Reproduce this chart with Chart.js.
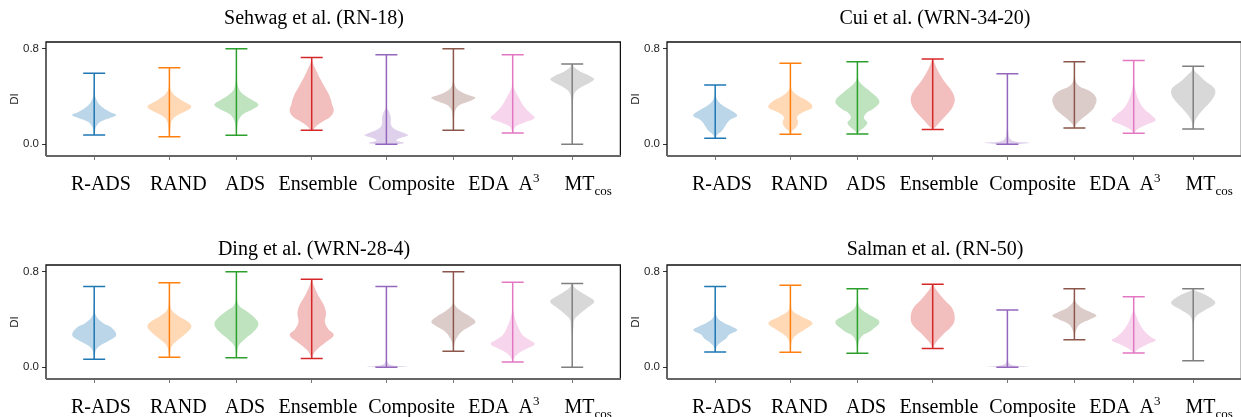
<!DOCTYPE html>
<html lang="en">
<head>
  <meta charset="UTF-8" />
  <title>DI per method</title>
  <script src="https://cdn.jsdelivr.net/npm/chart.js"></script>
  <style>
    html, body { margin: 0; padding: 0; background: #fff; overflow: hidden; }
    body { width: 1241px; height: 417px; position: relative; }
    .panel { position: absolute; width: 621px; height: 210px; }
  </style>
</head>
<body>
  <div class="panel" style="left:0;top:0"><canvas id="c0"></canvas></div>
  <div class="panel" style="left:621px;top:0"><canvas id="c1"></canvas></div>
  <div class="panel" style="left:0;top:223px"><canvas id="c2"></canvas></div>
  <div class="panel" style="left:621px;top:223px"><canvas id="c3"></canvas></div>

  <script>
    // methods, ^ = superscript, _ = subscript
    var categories = ['R-ADS', 'RAND', 'ADS', 'Ensemble', 'Composite', 'EDA', 'A^3', 'MT_cos'];
    var colors = ['#1f77b4', '#ff7f0e', '#2ca02c', '#d62728', '#9467bd', '#8c564b', '#e377c2', '#7f7f7f'];
    var yTicks = [0.0, 0.8];
    var titles = ['Sehwag et al. (RN-18)', 'Cui et al. (WRN-34-20)', 'Ding et al. (WRN-28-4)', 'Salman et al. (RN-50)'];

    // violin outlines: [DI value, relative half width], from max down to min
    var sehwag = [
      [[0.594, 0], [0.45, 0.02], [0.38, 0.08], [0.32, 0.3], [0.27, 0.72], [0.245, 1], [0.22, 0.72], [0.19, 0.3], [0.15, 0.1], [0.12, 0.05], [0.077, 0.02]],
      [[0.641, 0], [0.50, 0.02], [0.44, 0.1], [0.38, 0.45], [0.34, 0.82], [0.314, 1], [0.28, 0.78], [0.24, 0.35], [0.2, 0.12], [0.15, 0.06], [0.063, 0.02]],
      [[0.80, 0], [0.6, 0.02], [0.48, 0.08], [0.42, 0.3], [0.37, 0.72], [0.33, 1], [0.29, 0.72], [0.25, 0.3], [0.2, 0.1], [0.15, 0.04], [0.074, 0.02]],
      [[0.727, 0], [0.68, 0.05], [0.62, 0.2], [0.55, 0.38], [0.47, 0.62], [0.40, 0.82], [0.33, 0.93], [0.28, 1], [0.23, 0.85], [0.19, 0.5], [0.15, 0.2], [0.116, 0.05]],
      [[0.75, 0], [0.40, 0.01], [0.30, 0.03], [0.27, 0.12], [0.22, 0.2], [0.17, 0.2], [0.13, 0.35], [0.09, 0.85], [0.075, 1], [0.05, 0.6], [0.03, 0.45], [0.01, 0.8], [0.0, 0.5]],
      [[0.80, 0], [0.6, 0.02], [0.5, 0.05], [0.45, 0.25], [0.41, 0.72], [0.39, 1], [0.36, 0.72], [0.33, 0.3], [0.29, 0.1], [0.24, 0.04], [0.116, 0.01]],
      [[0.75, 0], [0.5, 0.02], [0.46, 0.08], [0.40, 0.25], [0.32, 0.5], [0.26, 0.8], [0.22, 1], [0.18, 0.5], [0.15, 0.15], [0.12, 0.05], [0.093, 0.02]],
      [[0.671, 0], [0.64, 0.12], [0.60, 0.45], [0.57, 0.82], [0.545, 1], [0.51, 0.75], [0.47, 0.35], [0.43, 0.12], [0.38, 0.05], [0.30, 0.02], [0.10, 0.01], [0.0, 0]]
    ];
    var cui = [
      [[0.496, 0], [0.42, 0.02], [0.37, 0.1], [0.33, 0.3], [0.29, 0.65], [0.24, 1], [0.20, 0.65], [0.15, 0.45], [0.11, 0.3], [0.08, 0.1], [0.049, 0.02]],
      [[0.677, 0], [0.5, 0.02], [0.45, 0.08], [0.40, 0.4], [0.36, 0.8], [0.31, 1], [0.27, 0.6], [0.23, 0.3], [0.18, 0.35], [0.14, 0.25], [0.11, 0.08], [0.083, 0.02]],
      [[0.691, 0], [0.55, 0.03], [0.50, 0.2], [0.44, 0.6], [0.36, 1], [0.30, 0.75], [0.26, 0.4], [0.22, 0.3], [0.18, 0.45], [0.14, 0.3], [0.11, 0.1], [0.085, 0.02]],
      [[0.713, 0], [0.68, 0.08], [0.61, 0.25], [0.52, 0.55], [0.45, 0.85], [0.38, 1], [0.31, 0.9], [0.24, 0.6], [0.18, 0.3], [0.135, 0.08], [0.122, 0.02]],
      [[0.59, 0], [0.2, 0.01], [0.1, 0.04], [0.05, 0.1], [0.025, 0.3], [0.012, 1], [0.0, 0.5]],
      [[0.691, 0], [0.55, 0.03], [0.49, 0.2], [0.44, 0.75], [0.38, 1], [0.31, 0.9], [0.27, 0.72], [0.23, 0.45], [0.19, 0.2], [0.16, 0.06], [0.136, 0.02]],
      [[0.70, 0], [0.55, 0.01], [0.47, 0.06], [0.38, 0.2], [0.30, 0.45], [0.245, 0.8], [0.20, 1], [0.165, 0.6], [0.13, 0.2], [0.10, 0.04], [0.091, 0.01]],
      [[0.652, 0], [0.62, 0.05], [0.59, 0.2], [0.52, 0.6], [0.47, 0.95], [0.425, 1], [0.36, 0.8], [0.29, 0.45], [0.22, 0.15], [0.175, 0.05], [0.127, 0.01]]
    ];
    var ding = [
      [[0.675, 0], [0.5, 0.02], [0.43, 0.08], [0.37, 0.4], [0.33, 0.8], [0.27, 1], [0.23, 0.75], [0.19, 0.35], [0.15, 0.1], [0.1, 0.03], [0.067, 0.01]],
      [[0.708, 0], [0.55, 0.03], [0.48, 0.1], [0.425, 0.45], [0.38, 0.85], [0.34, 1], [0.29, 0.8], [0.23, 0.4], [0.18, 0.12], [0.12, 0.03], [0.083, 0.01]],
      [[0.80, 0], [0.6, 0.02], [0.52, 0.1], [0.47, 0.45], [0.41, 0.85], [0.36, 1], [0.30, 0.8], [0.23, 0.35], [0.18, 0.1], [0.12, 0.03], [0.078, 0.01]],
      [[0.736, 0], [0.69, 0.08], [0.60, 0.3], [0.52, 0.55], [0.45, 0.65], [0.38, 0.6], [0.32, 0.75], [0.27, 1], [0.21, 0.65], [0.15, 0.25], [0.105, 0.07], [0.072, 0.02]],
      [[0.675, 0], [0.1, 0.01], [0.04, 0.05], [0.015, 0.3], [0.006, 1], [0.0, 0.5]],
      [[0.80, 0], [0.58, 0.02], [0.52, 0.06], [0.47, 0.35], [0.425, 0.75], [0.38, 1], [0.34, 0.75], [0.30, 0.4], [0.245, 0.15], [0.19, 0.04], [0.133, 0.01]],
      [[0.711, 0], [0.52, 0.01], [0.45, 0.05], [0.36, 0.2], [0.27, 0.45], [0.23, 0.75], [0.195, 1], [0.16, 0.7], [0.12, 0.3], [0.08, 0.08], [0.044, 0.01]],
      [[0.70, 0], [0.67, 0.1], [0.64, 0.3], [0.60, 0.65], [0.55, 1], [0.50, 0.7], [0.44, 0.3], [0.40, 0.1], [0.34, 0.06], [0.25, 0.02], [0.10, 0.01], [0.0, 0]]
    ];
    var salman = [
      [[0.675, 0], [0.5, 0.02], [0.42, 0.08], [0.37, 0.4], [0.34, 0.75], [0.31, 1], [0.275, 0.65], [0.24, 0.5], [0.215, 0.3], [0.175, 0.08], [0.128, 0.01]],
      [[0.686, 0], [0.52, 0.03], [0.47, 0.1], [0.425, 0.5], [0.37, 1], [0.31, 0.6], [0.26, 0.2], [0.215, 0.06], [0.16, 0.02], [0.125, 0.01]],
      [[0.656, 0], [0.55, 0.02], [0.49, 0.15], [0.44, 0.55], [0.38, 1], [0.31, 0.65], [0.26, 0.2], [0.2, 0.05], [0.117, 0.01]],
      [[0.694, 0], [0.65, 0.15], [0.56, 0.55], [0.49, 0.9], [0.40, 1], [0.34, 0.85], [0.27, 0.45], [0.2, 0.12], [0.156, 0.01]],
      [[0.48, 0], [0.1, 0.01], [0.04, 0.05], [0.015, 0.3], [0.006, 1], [0.0, 0.5]],
      [[0.656, 0], [0.56, 0.03], [0.5, 0.3], [0.46, 0.75], [0.43, 1], [0.40, 0.7], [0.36, 0.25], [0.3, 0.06], [0.23, 0.01]],
      [[0.589, 0], [0.47, 0.03], [0.44, 0.1], [0.37, 0.25], [0.30, 0.5], [0.25, 0.8], [0.225, 1], [0.19, 0.6], [0.15, 0.2], [0.119, 0.02]],
      [[0.656, 0], [0.64, 0.1], [0.62, 0.4], [0.58, 0.8], [0.536, 1], [0.48, 0.55], [0.43, 0.15], [0.38, 0.04], [0.3, 0.01], [0.053, 0]]
    ];
    var panelData = [sehwag, cui, ding, salman];

    // layout of one panel (x in px from the left edge of the frame)
    var boxWidth = 575;
    var tickPos = [48.2, 123.4, 190.4, 265.7, 340.4, 407.4, 466.7, 526.2];
    var labelPos = [24.9, 104, 179.1, 232.5, 322.2, 422.3, 472.5, 518.4];
    var halfWidth = 22;
    var capWidth = 11;
    var titleTop = [7, 7, 15, 15];

    function rgba(hex, a) {
      var n = parseInt(hex.slice(1), 16);
      return 'rgba(' + (n >> 16) + ',' + ((n >> 8) & 255) + ',' + (n & 255) + ',' + a + ')';
    }

    function violinPoints(shape, c) {
      var right = [], left = [];
      for (var i = shape.length - 1; i >= 0; i--) {
        right.push({ x: c + shape[i][1] * halfWidth, y: shape[i][0] });
      }
      for (var j = 0; j < shape.length; j++) {
        if (shape[j][1] > 0) left.push({ x: c - shape[j][1] * halfWidth, y: shape[j][0] });
      }
      return right.concat(left);
    }

    function whiskerPoints(shape, c) {
      var hi = shape[0][0], lo = shape[shape.length - 1][0];
      return [
        { x: c - capWidth, y: lo }, { x: c + capWidth, y: lo }, { x: c, y: null },
        { x: c, y: lo }, { x: c, y: hi }, { x: c, y: null },
        { x: c - capWidth, y: hi }, { x: c + capWidth, y: hi }
      ];
    }

    // frame + the serif method names under the axis
    var decor = {
      id: 'decor',
      afterDraw: function (chart) {
        var ctx = chart.ctx, a = chart.chartArea, xs = chart.scales.x;
        ctx.save();
        ctx.strokeStyle = '#111';
        ctx.lineWidth = 1.3;
        ctx.beginPath();
        ctx.moveTo(a.left, a.bottom);
        ctx.lineTo(a.left, a.top);
        ctx.lineTo(a.right - 0.6, a.top);
        ctx.lineTo(a.right - 0.6, a.bottom);
        ctx.stroke();
        ctx.strokeStyle = '#666';
        ctx.lineWidth = 2;
        ctx.beginPath();
        ctx.moveTo(a.left, a.bottom);
        ctx.lineTo(a.right, a.bottom);
        ctx.stroke();

        ctx.fillStyle = '#000';
        ctx.textAlign = 'left';
        ctx.textBaseline = 'alphabetic';
        var base = a.bottom + 34;
        for (var i = 0; i < categories.length; i++) {
          var x = xs.getPixelForValue(labelPos[i]);
          var parts = categories[i].split(/([\^_])/);
          ctx.font = '20px "Liberation Serif", "Times New Roman", serif';
          ctx.fillText(parts[0], x, base);
          if (parts.length > 1) {
            var w = ctx.measureText(parts[0]).width;
            ctx.font = '13px "Liberation Serif", "Times New Roman", serif';
            ctx.fillText(parts[2], x + w, parts[1] === '^' ? base - 8 : base + 5);
          }
        }
        ctx.restore();
      }
    };

    function drawPanel(k) {
      var shapes = panelData[k];
      var datasets = [];
      for (var i = 0; i < shapes.length; i++) {
        datasets.push({
          data: whiskerPoints(shapes[i], tickPos[i]),
          borderColor: colors[i],
          borderWidth: 1.5,
          pointRadius: 0,
          tension: 0,
          fill: false,
          order: 0
        });
        datasets.push({
          data: violinPoints(shapes[i], tickPos[i]),
          borderWidth: 0,
          backgroundColor: rgba(colors[i], 0.3),
          pointRadius: 0,
          tension: 0.4,
          fill: 'shape',
          order: 1
        });
      }

      new Chart(document.getElementById('c' + k), {
        type: 'line',
        data: { datasets: datasets },
        plugins: [decor],
        options: {
          responsive: true,
          maintainAspectRatio: false,
          animation: false,
          events: [],
          layout: { padding: { left: 7, right: 0, top: 0, bottom: 0 }, autoPadding: false },
          plugins: {
            legend: { display: false },
            tooltip: { enabled: false },
            title: {
              display: true,
              text: titles[k],
              color: '#000',
              font: { family: '"Liberation Serif", "Times New Roman", serif', size: 20, weight: 'normal', lineHeight: 1.2 },
              padding: { top: titleTop[k], bottom: 42 - 24 - titleTop[k] }
            }
          },
          scales: {
            x: {
              type: 'linear',
              min: 0,
              max: boxWidth,
              border: { display: false },
              grid: { drawOnChartArea: false, drawTicks: true, tickLength: 4, color: '#777' },
              ticks: { display: false },
              afterBuildTicks: function (s) { s.ticks = tickPos.map(function (v) { return { value: v }; }); },
              afterFit: function (s) { s.height = 54; }
            },
            y: {
              min: -0.099,
              max: 0.856,
              border: { display: false },
              grid: { drawOnChartArea: false, drawTicks: true, tickLength: 4, color: '#333' },
              ticks: {
                padding: 3,
                color: '#262626',
                font: { family: '"Liberation Sans", Arial, sans-serif', size: 11.5 },
                callback: function (v) { return v.toFixed(1); }
              },
              afterBuildTicks: function (s) { s.ticks = yTicks.map(function (v) { return { value: v }; }); },
              afterFit: function (s) { s.width = 39; },
              title: {
                display: true,
                text: 'DI',
                color: '#262626',
                font: { family: '"Liberation Sans", Arial, sans-serif', size: 11.5 },
                padding: { top: 1.2, bottom: 0 }
              }
            }
          }
        }
      });
    }

    for (var k = 0; k < 4; k++) {
      drawPanel(k);
    }
  </script>
</body>
</html>
